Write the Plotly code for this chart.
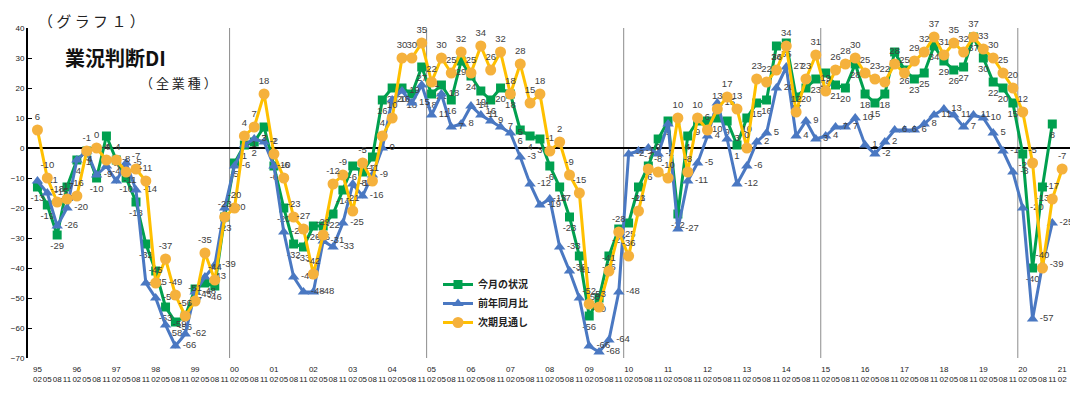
import plotly.graph_objects as go

# Quarter tick labels (1995/02 .. 2021/02)
years = ["95","96","97","98","99","00","01","02","03","04","05","06","07","08","09",
         "10","11","12","13","14","15","16","17","18","19","20","21"]
months = ["02","05","08","11"]

# 今月の状況 (green) 1995/02 .. 2020/11
kongetsu = [-13,-19,-29,-13, -4,-1,-10,4, -4,-10,-18,-32, -41,-53,-58,-56, -47,-45,-46,-23,
            -5,1,2,7, -6,-20,-32,-33, -26,-26,-22,-14, -6,-8,-3,16, 20,20,18,27,
            18,21,16,29, 24,19,16,20, 18,6,4,3, -6,-13,-23,-36, -56,-50,-36,-27,
            -25,-13,-6,3, 9,-22,4,9, 9,10,9,1, 10,15,16,34, 35,17,20,23,
            25,21,20,28, 18,15,18,32, 26,23,25,34, 29,26,27,37, 30,22,20,15,
            -2,-40,-13,8]
# 前年同月比 (blue)
zennen = [-11,-15,-26,-20, -4,-1,-9,-6, -11,-5,-14,-45, -50,-59,-66,-62, -48,-43,-39,-20,
          -6,1,3,2, -6,-28,-43,-48, -48,-31,-33,-25, -12,-16,-9,0, 16,19,15,21,
          11,18,7,8, 14,11,9,7, 5,-3,-12,-19, -17,-33,-41,-50, -66,-68,-64,-48,
          -2,-1,0,-2, 8,-27,-11,-5, 4,15,3,-12, -6,2,5,20, 27,4,9,3,
          4,7,7,10, 1,-2,2,6, 6,6,8,11, 13,11,7,11, 10,5,-1,-8,
          -20,-57,-39,-25]
# 次期見通し (orange) 1995/02 .. 2021/02
jiki = [6,-10,-18,-17, -16,-1,0,-4, -4,-8,-7,-11, -45,-37,-49,-56, -51,-35,-44,-23,
        -20,4,7,18, -2,-10,-23,-27, -42,-29,-12,-9, -21,-5,-11,4, 10,30,30,35,
        22,30,25,32, 25,34,26,32, 18,28,15,18, -1,2,-9,-15, -52,-53,-41,-28,
        -36,-21,-7,-8, -10,10,-8,10, 6,13,17,13, 0,23,22,26, 34,12,23,31,
        19,26,28,30, 25,23,22,28, 25,29,32,37, 31,35,32,37, 33,30,25,20,
        12,-5,-40,-17, -7]

n_q = len(years) * 4 - 3  # 105 quarters
xs = list(range(n_q))
tickvals = xs
ticktext = []
for i in xs:
    y = years[i // 4]
    m = months[i % 4]
    ticktext.append((y if i % 4 == 0 else " ") + "<br>" + m)

FONT_NUM = "Liberation Sans, Arial, sans-serif"
FONT_JP = "Noto Sans CJK JP"

# page has an 8px body margin: figure spans page x 8..1078, y 8..398
W, H = 1070, 390
ML, MR, MT, MB = 20, 6, 20, 40
PW = W - ML - MR
PH = H - MT - MB

def px(xpage):
    return (xpage - 8 - ML) / PW

def py(ypage):
    return 1 - (ypage - 8 - MT) / PH

fig = go.Figure()

def add(series, name, color, mcolor, symbol, msize, pos):
    fig.add_trace(go.Scatter(
        x=xs[:len(series)], y=series, name=name,
        mode="lines+markers+text",
        line=dict(color=color, width=3),
        marker=dict(symbol=symbol, size=msize, color=mcolor),
        text=[str(v) for v in series],
        textposition=pos,
        textfont=dict(size=9.5, color="#404040", family=FONT_NUM),
        cliponaxis=False,
    ))

add(kongetsu, "<b>今月の状況</b>", "#00A04F", "#00A04F", "square", 9, "bottom center")
add(zennen, "<b>前年同月比</b>", "#4A78C2", "#4A78C2", "triangle-up", 10, "middle right")
add(jiki, "<b>次期見通し</b>", "#FFC000", "#F5B13C", "circle", 11, "top center")

shapes = []
for b in [19.5, 39.5, 59.5, 79.5, 99.5]:
    shapes.append(dict(type="line", xref="x", yref="paper", x0=b, x1=b, y0=0, y1=1,
                       line=dict(color="#8C8C8C", width=1), layer="below"))

annotations = [
    dict(text="（ グ ラ フ １ ）", xref="paper", yref="paper", x=px(36), y=py(20),
         xanchor="left", yanchor="middle", showarrow=False,
         font=dict(size=15, family=FONT_JP, color="#222")),
    dict(text="<b>業況判断DI</b>", xref="paper", yref="paper", x=px(63), y=py(57),
         xanchor="left", yanchor="middle", showarrow=False,
         font=dict(size=20, family=FONT_JP, color="#111")),
    dict(text="（ 全 業 種 ）", xref="paper", yref="paper", x=px(138), y=py(83),
         xanchor="left", yanchor="middle", showarrow=False,
         font=dict(size=13, family=FONT_JP, color="#222")),
]

fig.update_layout(
    width=W, height=H,
    margin=dict(l=ML, r=MR, t=MT, b=MB),
    paper_bgcolor="white", plot_bgcolor="white",
    showlegend=True,
    legend=dict(x=px(438), y=py(270), xanchor="left", yanchor="top",
                bgcolor="rgba(255,255,255,0)", font=dict(size=10, family=FONT_JP, color="#222"),
                itemwidth=30, tracegroupgap=2),
    shapes=shapes,
    annotations=annotations,
    font=dict(family=FONT_NUM),
)
fig.update_xaxes(range=[-0.96, 105.0], tickmode="array", tickvals=tickvals, ticktext=ticktext,
                 tickangle=0, tickfont=dict(size=8, family=FONT_NUM, color="#222"),
                 ticklabelstandoff=5,
                 showgrid=False, zeroline=False, showline=False, ticks="", automargin=False)
fig.update_yaxes(range=[-70, 40], dtick=10, tick0=0, showgrid=False,
                 zeroline=True, zerolinecolor="black", zerolinewidth=2,
                 showline=True, linecolor="black", linewidth=2,
                 ticks="inside", ticklen=4, tickcolor="black", automargin=False,
                 tickfont=dict(size=8, family=FONT_NUM, color="#222"))

fig.write_html("out.html")
